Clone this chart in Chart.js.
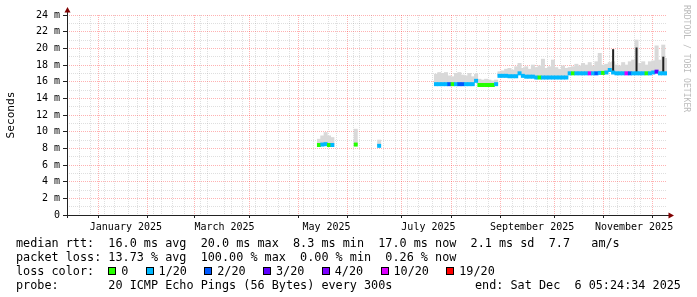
<!DOCTYPE html>
<html>
<head>
<meta charset="utf-8">
<script src="https://cdn.jsdelivr.net/npm/chart.js@4.4.1/dist/chart.umd.min.js"></script>
<style>
html, body { margin: 0; padding: 0; background: #fff; }
#wrap { position: relative; width: 697px; height: 297px; overflow: hidden; }
#pingChart { position: absolute; left: 0; top: 0; }
.mono { position: absolute; font-family: "DejaVu Sans Mono", monospace; color: #000; }
#legend { left: 16px; top: 235.5px; font-size: 11.8px; line-height: 14.1px; width: 680px; }
#legend .row { position: relative; height: 14.1px; white-space: pre; }
#legend .end { position: absolute; left: 459px; top: 0; }
.box { display: inline-block; width: 8px; height: 8px; box-sizing: border-box; border: 1px solid #000; margin-right: 4.8px; vertical-align: -0.5px; }
.item { margin-right: 17.5px; }
#mark { left: 683px; top: 5px; font-size: 8.1px; line-height: 8px; color: #bbb; writing-mode: vertical-rl; white-space: pre; }
</style>
</head>
<body>
<div id="wrap">
<canvas id="pingChart" width="697" height="297"></canvas>
<div id="legend" class="mono"><div class="row">median rtt:  16.0 ms avg  20.0 ms max  8.3 ms min  17.0 ms now  2.1 ms sd  7.7   am/s</div><div class="row">packet loss: 13.73 % avg  100.00 % max  0.00 % min  0.26 % now</div><div class="row" id="lossRow">loss color:  </div><div class="row">probe:       20 ICMP Echo Pings (56 Bytes) every 300s<span class="end">end: Sat Dec  6 05:24:34 2025</span></div></div>
<div id="mark" class="mono">RRDTOOL / TOBI OETIKER</div>
</div>
<script>
// loss legend
const lossLabels = ['0', '1/20', '2/20', '3/20', '4/20', '10/20', '19/20'];
const lossColors = ['#26ff00', '#00b8ff', '#0059ff', '#5e00ff', '#7e00ff', '#dd00ff', '#ff0000'];

// x = days since 1 Jan 2025, 2-day bins
const binDays = [131, 133, 135, 137, 139, 153, 167,
  201, 203, 205, 207, 209, 211, 213, 215, 217, 219, 221, 223, 225, 227, 229, 231, 233, 235, 237,
  239, 241, 243, 245, 247, 249, 251, 253, 255, 257, 259, 261, 263, 265, 267, 269, 271, 273, 275, 277, 279,
  281, 283, 285, 287, 289, 291, 293, 295, 297, 299, 301, 303, 305, 307, 309, 311, 313, 315, 317, 319,
  321, 323, 325, 327, 329, 331, 333, 335, 337, 339];

// median rtt (ms)
const medianMs = [8.4, 8.45, 8.5, 8.4, 8.4, 8.45, 8.3,
  15.7, 15.7, 15.7, 15.7, 15.7, 15.7, 15.7, 15.7, 15.7, 15.7, 15.7, 15.7, 16.1, 15.6, 15.6, 15.6, 15.6, 15.6, 15.7,
  16.7, 16.7, 16.7, 16.65, 16.65, 16.65, 17.0, 16.7, 16.6, 16.6, 16.6, 16.5, 16.5, 16.5, 16.5, 16.5, 16.5, 16.5, 16.5, 16.5, 16.5,
  17.0, 17.0, 17.0, 17.0, 17.0, 17.0, 17.0, 17.0, 17.0, 17.05, 17.05, 17.1, 17.4, 17.1, 17.0, 17.0, 17.0, 17.0, 17.0, 17.0,
  17.0, 17.0, 17.0, 17.0, 17.0, 17.1, 17.2, 17.0, 17.0, 17.0];

// top of the smoke (max ping, ms)
const smokeTopMs = [9.1, 9.5, 9.9, 9.5, 9.3, 10.3, 9.0,
  16.9, 17.1, 17.0, 17.1, 16.7, 16.6, 17.0, 17.1, 16.8, 16.7, 17.0, 16.6, 16.9, 16.3, 16.2, 16.3, 16.2, 16.1, 16.2,
  17.2, 17.3, 17.5, 17.6, 17.4, 17.8, 18.2, 17.6, 17.8, 17.5, 18.0, 17.7, 17.9, 18.7, 17.6, 17.8, 18.6, 17.7, 17.5, 17.9, 17.6,
  17.7, 17.8, 18.1, 17.9, 18.2, 18.0, 18.3, 17.9, 18.4, 19.4, 18.0, 18.1, 18.3, 18.4, 18.0, 17.9, 18.3, 18.0, 18.4, 18.6,
  21.0, 18.2, 18.4, 18.0, 18.4, 18.5, 20.3, 18.6, 20.4, 18.8];

// index into lossLabels
const lossLevel = [0, 1, 1, 0, 1, 0, 1,
  1, 1, 1, 1, 2, 0, 1, 2, 2, 1, 1, 1, 1, 0, 0, 0, 0, 0, 1,
  1, 1, 1, 1, 1, 1, 1, 1, 1, 1, 1, 1, 0, 1, 1, 1, 1, 1, 1, 1, 1,
  1, 0, 1, 1, 1, 1, 5, 1, 2, 1, 0, 1, 1, 1, 1, 1, 1, 5, 2, 1,
  1, 1, 1, 0, 1, 1, 3, 1, 1, 1];

// single-bin median spikes
const spikeDays = [307, 321, 337];
const spikePeakMs = [19.9, 20.1, 19.0];

// axis ticks
const monthStartDays = [0, 31, 59, 90, 120, 151, 181, 212, 243, 273, 304, 334];
const labelDays = [15.5, 74.5, 135.5, 196.5, 258.5, 319.5];
const monthLabels = ['January 2025', 'March 2025', 'May 2025', 'July 2025', 'September 2025', 'November 2025'];
const firstMonday = -16; // Mon 16 Dec 2024
const xMin = -19.75;
const xMax = 339.23;
const yMax = 24;

// legend row
const lossRow = document.getElementById('lossRow');
lossLabels.forEach(function (lab, i) {
  const box = document.createElement('span');
  box.className = 'box';
  box.style.background = lossColors[i];
  const txt = document.createElement('span');
  txt.className = 'item';
  txt.textContent = lab;
  lossRow.appendChild(box);
  lossRow.appendChild(txt);
});

const weekDays = [];
for (let d = firstMonday; d <= xMax; d += 7) weekDays.push(d);
const xTicks = Array.from(new Set(weekDays.concat(monthStartDays, labelDays))).sort((a, b) => a - b);
const yTicks = [];
for (let v = 0; v <= yMax; v++) yTicks.push(v);

const band = 0.2;
const smokeData = binDays.map((d, i) => ({ x: d, y: [medianMs[i], smokeTopMs[i]] }));
const medianData = binDays.map((d, i) => ({ x: d, y: [medianMs[i] - band, medianMs[i] + band] }));
const spikeData = spikeDays.map((d, i) => ({ x: d, y: [medianMs[binDays.indexOf(d)], spikePeakMs[i]] }));

const MAJOR = 'rgba(255, 0, 0, 0.3)';
const MINOR = 'rgba(128, 128, 128, 0.25)';
const NONE = 'rgba(0, 0, 0, 0)';
const AXIS = '#222';
const tickFont = { family: '"DejaVu Sans Mono", monospace', size: 10 };

function tickValue(ctx) {
  return ctx.tick ? ctx.tick.value : null;
}

const rrdAxes = {
  id: 'rrdAxes',
  afterDatasetsDraw(chart) {
    const c = chart.ctx;
    const a = chart.chartArea;
    const x0 = a.left + 0.5;
    const y0 = a.bottom + 0.5;
    c.save();
    c.strokeStyle = AXIS;
    c.lineWidth = 1;
    c.beginPath();
    c.moveTo(a.left - 4, y0);
    c.lineTo(a.right + 2, y0);
    c.moveTo(x0, a.bottom + 3);
    c.lineTo(x0, a.top - 3);
    c.stroke();
    c.fillStyle = '#800000';
    c.beginPath();
    c.moveTo(x0, a.top - 8);
    c.lineTo(x0 - 3, a.top - 2.5);
    c.lineTo(x0 + 3, a.top - 2.5);
    c.closePath();
    c.fill();
    c.beginPath();
    c.moveTo(a.right + 7, y0);
    c.lineTo(a.right + 1.5, y0 - 3);
    c.lineTo(a.right + 1.5, y0 + 3);
    c.closePath();
    c.fill();
    c.restore();
  }
};

const barCommon = { grouped: false, categoryPercentage: 1, borderWidth: 0, xAxisID: 'x', yAxisID: 'y' };

new Chart(document.getElementById('pingChart').getContext('2d'), {
  type: 'bar',
  data: {
    datasets: [
      Object.assign({
        label: 'median rtt',
        data: medianData,
        barPercentage: 1,
        backgroundColor: (ctx) => lossColors[lossLevel[ctx.dataIndex]] || lossColors[1],
        order: 1
      }, barCommon),
      Object.assign({
        label: 'spike',
        data: spikeData,
        barPercentage: 0.6,
        backgroundColor: '#222',
        order: 2
      }, barCommon),
      Object.assign({
        label: 'smoke',
        data: smokeData,
        barPercentage: 1,
        backgroundColor: '#d9d9d9',
        order: 3
      }, barCommon)
    ]
  },
  options: {
    responsive: false,
    animation: false,
    devicePixelRatio: 1,
    layout: { padding: { top: 15, right: 30, left: 0, bottom: 0 } },
    plugins: { legend: { display: false }, tooltip: { enabled: false } },
    scales: {
      x: { type: 'linear', min: xMin, max: xMax, offset: false, display: false },
      xg: {
        type: 'linear',
        position: 'bottom',
        min: xMin,
        max: xMax,
        offset: false,
        afterBuildTicks: (scale) => { scale.ticks = xTicks.map(v => ({ value: v })); },
        afterFit: (scale) => { scale.height = 82; scale.paddingLeft = 0; scale.paddingRight = 0; },
        grid: {
          lineWidth: 1,
          tickLength: 3,
          color: (ctx) => {
            const v = tickValue(ctx);
            if (monthStartDays.includes(v)) return MAJOR;
            if (v === null || labelDays.includes(v)) return NONE;
            return MINOR;
          },
          tickColor: (ctx) => monthStartDays.includes(tickValue(ctx)) ? AXIS : NONE
        },
        border: { display: false, dash: [1, 1] },
        ticks: {
          autoSkip: false,
          maxRotation: 0,
          minRotation: 0,
          padding: 3,
          color: '#000',
          font: tickFont,
          callback: (v) => {
            const i = labelDays.indexOf(v);
            return i >= 0 ? monthLabels[i] : '';
          }
        }
      },
      y: {
        min: 0,
        max: yMax,
        afterBuildTicks: (scale) => { scale.ticks = yTicks.map(v => ({ value: v })); },
        afterFit: (scale) => { scale.width = 67; scale.paddingTop = 0; scale.paddingBottom = 0; },
        grid: {
          lineWidth: 1,
          tickLength: 4,
          color: (ctx) => tickValue(ctx) === null ? NONE : (tickValue(ctx) % 2 === 0 ? MAJOR : MINOR),
          tickColor: (ctx) => tickValue(ctx) !== null && tickValue(ctx) % 2 === 0 ? AXIS : NONE
        },
        border: { display: false, dash: [1, 1] },
        ticks: {
          autoSkip: false,
          padding: 3,
          color: '#000',
          font: tickFont,
          callback: (v) => v % 2 !== 0 ? '' : (v === 0 ? '0' : v + ' m')
        },
        title: {
          display: true,
          text: 'Seconds',
          color: '#000',
          font: { family: '"DejaVu Sans Mono", monospace', size: 11.2 },
          padding: { top: 4, bottom: 0 }
        }
      }
    }
  },
  plugins: [rrdAxes]
});
</script>
</body>
</html>
